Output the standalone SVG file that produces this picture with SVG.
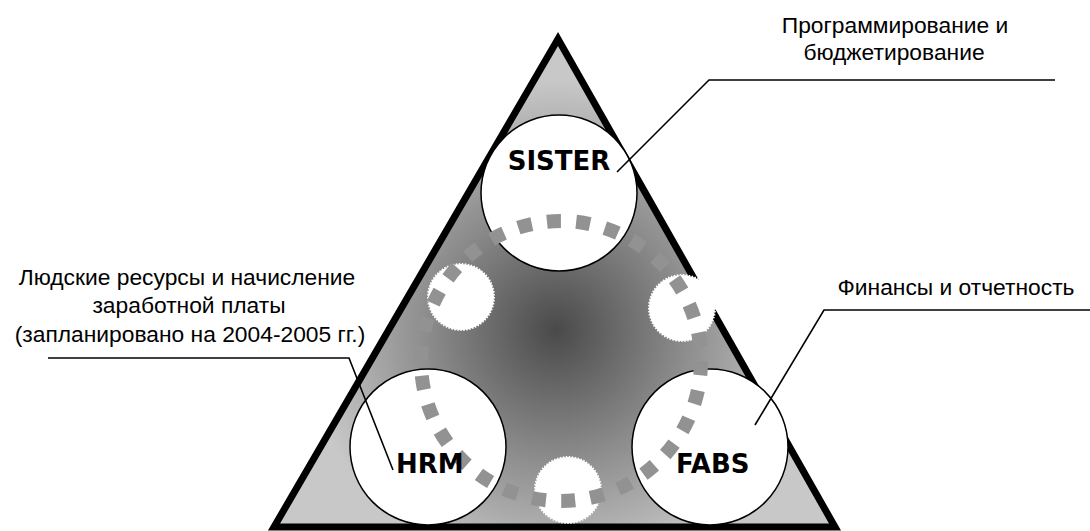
<svg xmlns="http://www.w3.org/2000/svg" width="1090" height="531" viewBox="0 0 1090 531">
<defs>
<radialGradient id="tg" gradientUnits="userSpaceOnUse" cx="556" cy="330" r="250">
<stop offset="0" stop-color="#4a4a4a"/>
<stop offset="0.5" stop-color="#8a8a8a"/>
<stop offset="1" stop-color="#c8c8c8"/>
</radialGradient>
<style>
.big{fill:#fff;stroke:#000;stroke-width:1.5}
.small{fill:#fff;stroke:#fff;stroke-width:2;stroke-dasharray:1.5 1.5}
.lbl{font-family:"Liberation Sans",Arial,sans-serif;font-size:22.8px;fill:#000;text-anchor:middle}
.nm{font-family:"DejaVu Sans",Verdana,sans-serif;font-weight:bold;font-size:26px;fill:#000}
.lead{fill:none;stroke:#000;stroke-width:1.6}
</style>
</defs>
<rect width="1090" height="531" fill="#fff"/>
<g id="triangle">
<polygon points="558,39 274,527 835,527" fill="url(#tg)" stroke="#000" stroke-width="7" stroke-linejoin="miter"/>
</g>
<g id="small-circles">
<circle class="small" cx="461" cy="297" r="33"/>
<circle class="small" cx="682" cy="308" r="33"/>
<circle class="small" cx="568" cy="490" r="33"/>
</g>
<g id="SISTER">
<circle class="big" cx="559" cy="193" r="78"/>
</g>
<g id="HRM">
<circle class="big" cx="428" cy="447" r="78"/>
</g>
<g id="FABS">
<circle class="big" cx="710" cy="447" r="78"/>
</g>
<g id="ring">
<circle cx="561" cy="361" r="140" fill="none" stroke="#929292" stroke-width="14" stroke-dasharray="14 15.32" stroke-dashoffset="28.96"/>
</g>
<g id="node-labels">
<text class="nm" x="559" y="170" text-anchor="middle">SISTER</text>
<text class="nm" x="396" y="473">HRM</text>
<text class="nm" x="676" y="473">FABS</text>
</g>
<g id="connectors">
<polyline class="lead" points="1055,80 709,80 617,172"/>
<polyline class="lead" points="48,358 349,358 393,470"/>
<polyline class="lead" points="1090,310 824,310 755,425"/>
</g>
<g id="labels">
<text class="lbl" x="895" y="33">Программирование и</text>
<text class="lbl" x="894" y="60">бюджетирование</text>
<text class="lbl" x="187" y="285">Людские ресурсы и начисление</text>
<text class="lbl" x="189" y="313">заработной платы</text>
<text class="lbl" x="190" y="342">(запланировано на 2004-2005 гг.)</text>
<text class="lbl" x="956" y="295">Финансы и отчетность</text>
</g>
</svg>
